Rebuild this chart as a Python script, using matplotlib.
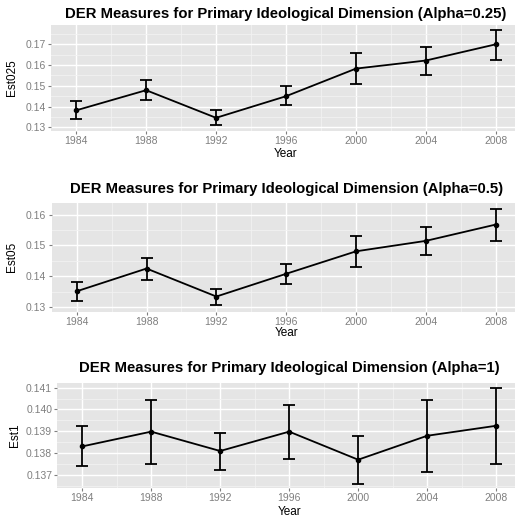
import matplotlib
matplotlib.use("Agg")
import matplotlib.pyplot as plt
from matplotlib.ticker import FixedLocator

years = [1984, 1988, 1992, 1996, 2000, 2004, 2008]

est025 = [0.1382, 0.1479, 0.1346, 0.1450, 0.1583, 0.1622, 0.1700]
est025_lo = [0.1340, 0.1431, 0.1310, 0.1406, 0.1508, 0.1554, 0.1625]
est025_hi = [0.1428, 0.1527, 0.1382, 0.1497, 0.1660, 0.1686, 0.1770]

est05 = [0.1351, 0.1425, 0.1334, 0.1408, 0.1481, 0.1515, 0.1568]
est05_lo = [0.1321, 0.1389, 0.1308, 0.1375, 0.1430, 0.1468, 0.1516]
est05_hi = [0.1381, 0.1460, 0.1360, 0.1440, 0.1532, 0.1559, 0.1619]

est1 = [0.13830, 0.13898, 0.13809, 0.13898, 0.13769, 0.13879, 0.13925]
est1_lo = [0.13740, 0.13749, 0.13723, 0.13772, 0.13657, 0.13712, 0.13749]
est1_hi = [0.13922, 0.14043, 0.13892, 0.14022, 0.13879, 0.14043, 0.14098]

titles = ["DER Measures for Primary Ideological Dimension (Alpha=0.25)",
          "DER Measures for Primary Ideological Dimension (Alpha=0.5)",
          "DER Measures for Primary Ideological Dimension (Alpha=1)"]
ylabels = ["Est025", "Est05", "Est1"]
yticks = [[0.13, 0.14, 0.15, 0.16, 0.17],
          [0.13, 0.14, 0.15, 0.16],
          [0.137, 0.138, 0.139, 0.140, 0.141]]
yfmt = ["{:.2f}", "{:.2f}", "{:.3f}"]

W, H = 515, 523
fig = plt.figure(figsize=(W / 100, H / 100), dpi=100)
plt.rcParams['font.family'] = ['Liberation Sans', 'DejaVu Sans']

# panel pixel boxes: left, right, top, bottom
boxes = [(51, 521, 25, 130.7), (51.5, 521, 203, 311.7), (57.3, 521, 382.7, 488.3)]
ylims = [(0.1284, 0.1793), (0.12847, 0.1638), (0.136375, 0.14123)]
series = [(est025, est025_lo, est025_hi), (est05, est05_lo, est05_hi), (est1, est1_lo, est1_hi)]
title_y = [14, 189, 368]
xlabel_y = [154, 333, 512]
ylabel_x = [12, 12, 15]

for i in range(3):
    l, r, t, b = boxes[i]
    ax = fig.add_axes([l / W, (H - b) / H, (r - l) / W, (b - t) / H])
    ax.set_facecolor('#E5E5E5')
    for s in ax.spines.values():
        s.set_visible(False)
    ax.set_xlim(1982.56, 2009.44)
    ax.set_ylim(*ylims[i])
    ax.set_xticks(years)
    ax.set_xticklabels([str(y) for y in years])
    ax.xaxis.set_minor_locator(FixedLocator([1982, 1986, 1990, 1994, 1998, 2002, 2006]))
    yt = yticks[i]
    ax.set_yticks(yt)
    ax.set_yticklabels([yfmt[i].format(v) for v in yt])
    step = yt[1] - yt[0]
    ax.yaxis.set_minor_locator(FixedLocator([yt[0] - step / 2] + [v + step / 2 for v in yt]))
    ax.grid(which='major', color='white', linewidth=1.0)
    ax.grid(which='minor', color='#F2F2F2', linewidth=0.6)
    ax.set_axisbelow(True)
    ax.tick_params(which='major', length=2.5, width=0.8, color='#7F7F7F',
                   labelcolor='#7F7F7F', labelsize=7.5, pad=1.2)
    ax.tick_params(which='minor', length=0)
    v, lo, hi = series[i]
    yerr = [[a - c for a, c in zip(v, lo)], [c - a for a, c in zip(v, hi)]]
    ax.errorbar(years, v, yerr=yerr, color='black', linewidth=1.3, elinewidth=1.3,
                capsize=4.3, capthick=1.3, marker='o', markersize=3, zorder=3)
    cx = (l + r) / 2
    fig.text(cx / W, 1 - title_y[i] / H, titles[i], ha='center', va='center',
             fontsize=10.7, fontweight='bold', color='black')
    fig.text(cx / W, 1 - xlabel_y[i] / H, "Year", ha='center', va='center',
             fontsize=8.5, color='black')
    fig.text(ylabel_x[i] / W, 1 - ((t + b) / 2) / H, ylabels[i], ha='center', va='center',
             fontsize=8.5, color='black', rotation=90)

fig.savefig("out.png", dpi=100, facecolor='white')
